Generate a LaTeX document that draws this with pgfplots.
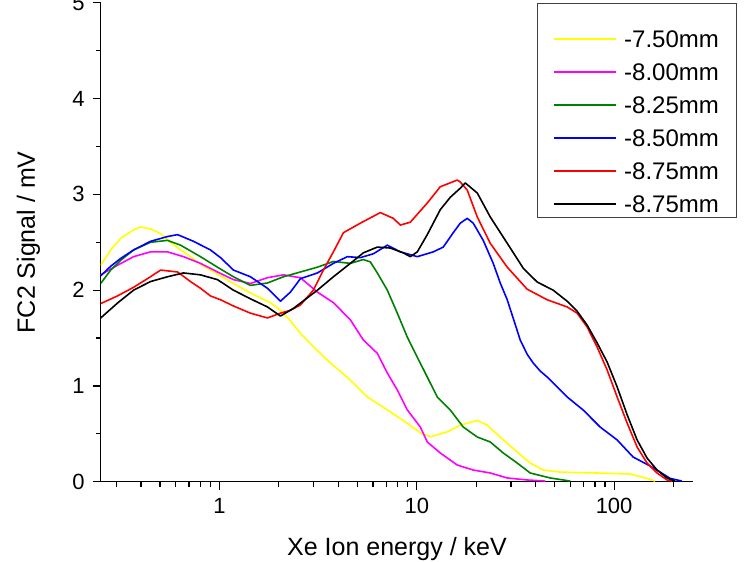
\documentclass[border=0pt]{standalone}
\usepackage{fontspec}
\setmainfont{Liberation Sans}
\usepackage{pgfplots}
\pgfplotsset{compat=1.18}

\definecolor{cyel}{RGB}{255,255,0}
\definecolor{cmag}{RGB}{255,0,255}
\definecolor{cgrn}{RGB}{0,128,0}
\definecolor{cblu}{RGB}{0,0,255}
\definecolor{cred}{RGB}{255,0,0}

\begin{document}
\begin{tikzpicture}
\begin{axis}[
  scale only axis,
  width=592.6pt, height=478.8pt,
  xmode=log,
  xmin=0.25, xmax=252,
  ymin=0, ymax=5,
  axis lines=left,
  x axis line style={-, line width=1.5pt},
  y axis line style={-, line width=1.5pt},
  tick align=outside,
  major tick length=8pt,
  minor tick length=5pt,
  every tick/.style={black, line width=1.2pt},
  xtick={1,10,100},
  xticklabels={1,10,100},
  minor xtick={0.3,0.4,0.5,0.6,0.7,0.8,0.9,2,3,4,5,6,7,8,9,20,30,40,50,60,70,80,90,200},
  ytick={0,1,2,3,4,5},
  minor ytick={0.5,1.5,2.5,3.5,4.5},
  /pgf/number format/assume math mode=true,
  tick label style={font=\fontsize{22}{26}\selectfont},
  yticklabel style={anchor=east, inner sep=0pt, xshift=-8pt},
  xticklabel style={anchor=north, inner sep=0pt, yshift=-8pt},
  xlabel={Xe Ion energy / keV},
  ylabel={FC2 Signal / mV},
  label style={font=\fontsize{25}{30}\selectfont},
  xlabel style={at={(axis description cs:0.5,-0.1531)}, anchor=base},
  ylabel style={at={(axis description cs:-0.1109,0.5)}, anchor=base},
  legend cell align=left,
  legend style={
    at={(rel axis cs:0.7632,0.9434)}, anchor=north west,
    draw=none, fill=none, inner sep=0pt,
    row sep=16pt, column sep=7pt,
    font=\fontsize{24}{28}\selectfont,
    nodes={inner sep=0pt, text height=17pt, text depth=0pt},
  },
  legend image code/.code={\draw[#1, line width=2pt] (0pt,0pt) -- (62pt,0pt);},
  every axis plot/.append style={line width=1.6pt, line join=round, mark=none},
]

% -7.50 mm
\addplot[cyel] coordinates {
(0.25,2.26) (0.281,2.42) (0.315,2.54) (0.367,2.63) (0.398,2.66) (0.447,2.64)
(0.503,2.59) (0.565,2.50) (0.635,2.42) (0.713,2.35) (0.801,2.27) (0.900,2.21)
(1.012,2.15) (1.177,2.07) (1.435,1.97) (1.613,1.92) (1.812,1.87) (2.037,1.79)
(2.288,1.68) (2.571,1.55) (2.991,1.41) (3.648,1.24) (4.448,1.09) (5.615,0.885)
(7.09,0.75) (8.54,0.64) (10.42,0.51) (11.71,0.47) (14.27,0.52) (16.61,0.59)
(20.25,0.64) (22.75,0.59) (28.73,0.40) (37.56,0.195) (43.7,0.122) (53.3,0.10)
(84.96,0.09) (120.5,0.08) (143.5,0.04) (161.3,0.007)
};
\addlegendentry{-7.50mm}

% -8.00 mm
\addplot[cmag] coordinates {
(0.25,2.16) (0.304,2.26) (0.367,2.35) (0.447,2.40) (0.545,2.40) (0.657,2.35)
(0.801,2.28) (0.977,2.19) (1.177,2.11) (1.435,2.07) (1.75,2.13) (2.109,2.16)
(2.571,2.13) (3.135,1.98) (3.778,1.87) (4.606,1.69) (5.359,1.48) (6.31,1.34)
(7.09,1.135) (7.967,0.958) (8.95,0.75) (10.42,0.571) (11.3,0.415) (13.15,0.30)
(16.04,0.174) (19.32,0.122) (23.56,0.091) (28.73,0.039) (36.27,0.018) (44.74,0.007)
};
\addlegendentry{-8.00mm}

% -8.25 mm
\addplot[cgrn] coordinates {
(0.25,2.07) (0.281,2.21) (0.315,2.31) (0.367,2.42) (0.447,2.50) (0.545,2.52)
(0.635,2.47) (0.801,2.35) (0.977,2.24) (1.177,2.14) (1.435,2.05) (1.75,2.075)
(2.109,2.14) (2.571,2.19) (3.135,2.24) (3.778,2.30) (4.606,2.28) (5.359,2.32)
(5.816,2.295) (6.31,2.18) (7.09,2.00) (7.967,1.76) (8.95,1.51) (10.06,1.30)
(11.3,1.093) (12.7,0.885) (14.78,0.749) (17.2,0.571) (20.25,0.467) (23.56,0.415)
(27.42,0.30) (32.28,0.195) (37.56,0.091) (47.43,0.039) (59.86,0.007)
};
\addlegendentry{-8.25mm}

% -8.50 mm
\addplot[cblu] coordinates {
(0.25,2.15) (0.281,2.25) (0.315,2.33) (0.367,2.42) (0.447,2.51) (0.545,2.56)
(0.613,2.58) (0.739,2.51) (0.900,2.42) (1.012,2.34) (1.177,2.21) (1.435,2.14)
(1.75,2.02) (2.037,1.885) (2.288,1.98) (2.571,2.12) (3.135,2.18) (3.778,2.28)
(4.448,2.35) (5.174,2.34) (6.023,2.38) (7.09,2.47) (8.253,2.40) (10.06,2.35)
(12.12,2.40) (13.62,2.45) (15.3,2.60) (16.61,2.70) (18.02,2.75) (19.32,2.70)
(21.71,2.52) (24.4,2.28) (26.48,2.075) (28.73,1.90) (31.0,1.69) (33.43,1.48)
(36.27,1.33) (38.9,1.24) (42.2,1.156) (45.8,1.093) (57.8,0.885) (69.66,0.749)
(84.96,0.571) (103.6,0.436) (124.8,0.258) (152.1,0.164) (171.0,0.101)
(192.1,0.035) (220.0,0.007)
};
\addlegendentry{-8.50mm}

% -8.75 mm
\addplot[cred] coordinates {
(0.25,1.86) (0.304,1.94) (0.367,2.03) (0.447,2.14) (0.503,2.21) (0.613,2.19)
(0.713,2.09) (0.801,2.02) (0.900,1.94) (1.012,1.90) (1.177,1.835) (1.435,1.76)
(1.75,1.71) (2.037,1.76) (2.288,1.79) (2.571,1.845) (2.991,2.00) (3.362,2.21)
(3.778,2.40) (4.246,2.60) (5.174,2.70) (6.535,2.81) (7.603,2.75) (8.253,2.68)
(9.27,2.71) (11.3,2.91) (13.15,3.08) (16.04,3.15) (16.61,3.13) (18.02,3.045)
(20.25,2.765) (23.56,2.49) (28.73,2.24) (36.27,2.01) (45.8,1.90) (57.8,1.825)
(64.97,1.76) (73.0,1.616) (82.0,1.407) (92.17,1.167) (103.6,0.885) (116.4,0.613)
(130.8,0.362) (146.9,0.195) (165.1,0.091) (185.5,0.018) (196.7,0.007)
};
\addlegendentry{-8.75mm}

% -8.75 mm (second run)
\addplot[black] coordinates {
(0.25,1.71) (0.304,1.865) (0.367,2.00) (0.447,2.09) (0.545,2.14) (0.657,2.18)
(0.801,2.16) (0.977,2.11) (1.177,2.00) (1.435,1.91) (1.75,1.825) (2.037,1.73)
(2.37,1.81) (2.571,1.865) (3.135,2.00) (3.778,2.14) (4.606,2.28) (5.359,2.39)
(6.31,2.45) (7.343,2.44) (8.54,2.39) (9.27,2.35) (10.06,2.40) (11.3,2.58)
(13.15,2.84) (14.78,2.97) (16.61,3.065) (17.6,3.12) (20.25,3.015) (23.56,2.765)
(28.73,2.49) (34.62,2.23) (40.75,2.085) (49.12,2.00) (57.8,1.885) (64.97,1.78)
(73.0,1.635) (82.0,1.45) (92.17,1.25) (103.6,0.99) (116.4,0.70) (130.8,0.436)
(146.9,0.247) (165.1,0.122) (185.5,0.039) (203.7,0.007)
};
\addlegendentry{-8.75mm}

\end{axis}
% legend frame
\draw[black!75, line width=0.9pt] (436.3pt,264.7pt) rectangle (635.3pt,478.7pt);
\pgfresetboundingbox
\useasboundingbox (-100.7pt,-80.3pt) rectangle (643.3pt,481.7pt);
\end{tikzpicture}
\end{document}
